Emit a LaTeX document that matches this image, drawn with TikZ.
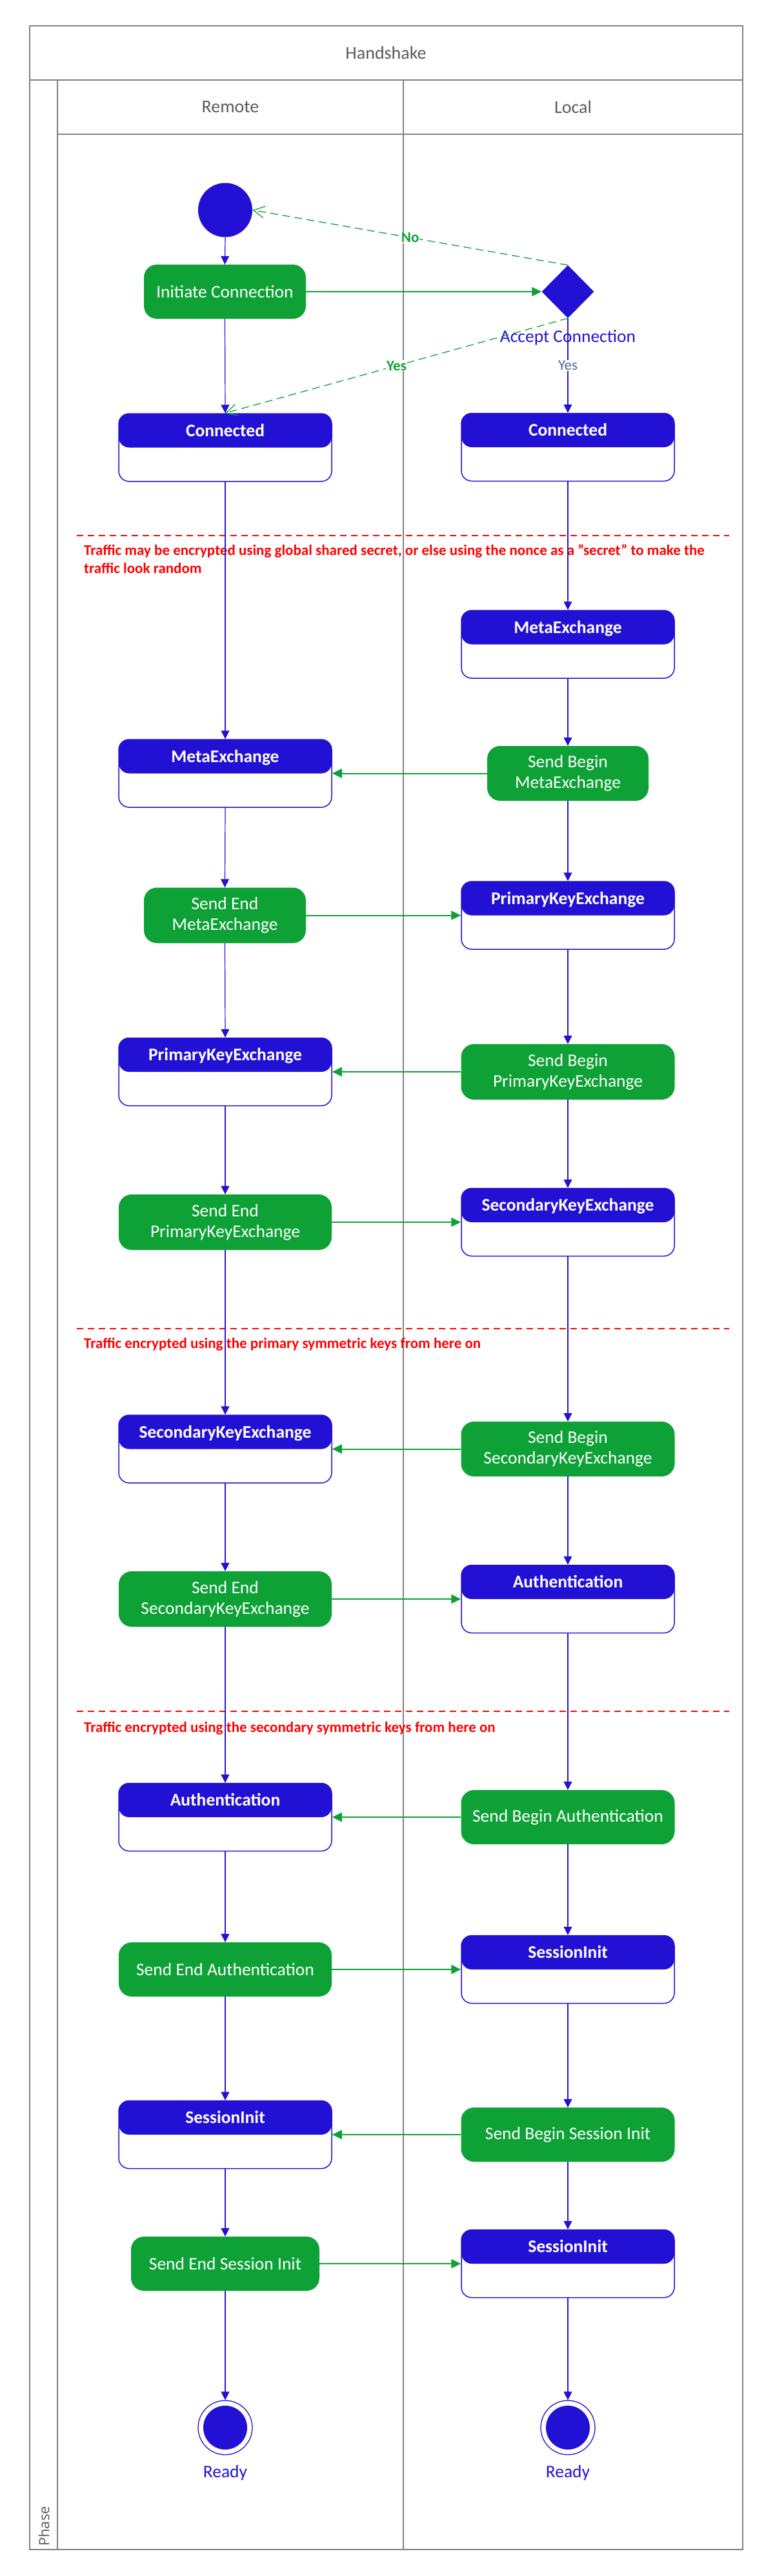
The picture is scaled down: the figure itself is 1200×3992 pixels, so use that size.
\documentclass[tikz,border=0pt]{standalone}
\usepackage{fontspec}
\setmainfont{Carlito}
\newfontfamily\phasefont{Open Sans}
\usetikzlibrary{shapes.geometric,arrows.meta}
\definecolor{ublue}{RGB}{34,17,212}
\definecolor{ugreen}{RGB}{13,161,54}
\definecolor{ugray}{RGB}{128,128,128}
\definecolor{utext}{RGB}{89,89,89}
\definecolor{yesblue}{RGB}{74,106,150}
\begin{document}
\begin{tikzpicture}[x=1pt,y=-1pt,
  frameline/.style={draw=ugray, line width=1.5pt},
  hdr/.style={text=utext, font=\fontsize{28}{34}\selectfont, inner sep=0pt},
  stbox/.style={rectangle, rounded corners=16pt, draw=ublue, line width=1.5pt, fill=white,
    minimum width=330pt, minimum height=105pt, inner sep=0pt,
    path picture={\fill[ublue] (path picture bounding box.north west) rectangle (path picture bounding box.east);}},
  sthead/.style={text=white, font=\bfseries\fontsize{27.5}{33}\selectfont, inner sep=0pt, anchor=base},
  act/.style={rectangle, rounded corners=20pt, fill=ugreen, text=white,
    font=\fontsize{27.5}{32}\selectfont, align=center, inner sep=0pt, minimum height=85pt},
  startnode/.style={circle, fill=ublue, minimum size=84pt, inner sep=0pt},
  finalnode/.style={circle, draw=ublue, line width=1.3pt, fill=white, minimum size=84pt, inner sep=0pt,
    path picture={\fill[ublue] (path picture bounding box.center) circle[radius=34pt];}},
  decnode/.style={diamond, fill=ublue, minimum width=81pt, minimum height=82pt, inner sep=0pt},
  bluetext/.style={text=ublue, font=\fontsize{27.5}{32}\selectfont, inner sep=0pt},
  flow/.style={draw=ublue, line width=1.2pt, -{Triangle[length=13pt,width=13pt]}},
  msg/.style={draw=ugreen, line width=2pt, -{Triangle[length=15pt,width=14pt]}},
  guard/.style={draw=ugreen, line width=1.3pt, dash pattern=on 12pt off 7pt, -{Straight Barb[length=17pt,width=18pt]}},
  glabel/.style={fill=white, text=ugreen, font=\bfseries\fontsize{23}{26}\selectfont, inner sep=1pt},
  ylabel/.style={fill=white, text=yesblue, font=\fontsize{23}{26}\selectfont, inner sep=1pt},
  note/.style={text=red, font=\bfseries\fontsize{23}{28}\selectfont, inner sep=0pt, anchor=base west},
  sepline/.style={draw=red, line width=1.5pt, dash pattern=on 10pt off 7pt}
]
\useasboundingbox (0,0) rectangle (1200,3992);

% ---- swimlane frame ----
\draw[frameline] (46,40) rectangle (1151,3951);
\draw[frameline] (46,124) -- (1151,124);
\draw[frameline] (89,124) -- (89,3951);
\draw[frameline] (89,208) -- (1151,208);
\draw[frameline] (625,124) -- (625,3951);
\node[hdr] (title) at (598,82) {Handshake};
\node[hdr] (remote) at (357,166) {Remote};
\node[hdr] (local) at (888,166) {Local};
\node[rotate=90, anchor=west, text=utext, font=\phasefont\fontsize{22}{26}\selectfont, inner sep=0pt] (phase) at (68,3946) {Phase};

% ---- separators ----
\draw[sepline] (119,830) -- (1130,830);
\node[note] (n1a) at (130,860) {Traffic may be encrypted using global shared secret, or else using the nonce as a "secret" to make the};
\node[note] (n1b) at (130,888) {traffic look random};
\draw[sepline] (119,2059) -- (1130,2059);
\node[note] (n2) at (130,2089) {Traffic encrypted using the primary symmetric keys from here on};
\draw[sepline] (119,2652) -- (1130,2652);
\node[note] (n3) at (130,2684) {Traffic encrypted using the secondary symmetric keys from here on};

% ---- remote column ----
\node[startnode] (start) at (349,325.5) {};
\node[act, minimum width=251pt, minimum height=84pt] (initc) at (348.5,452) {Initiate Connection};
\node[stbox] (rcon) at (349,693.5) {};
\node[sthead] at ([yshift=-36pt]rcon.north) {Connected};
\node[stbox] (rmeta) at (349,1198.5) {};
\node[sthead] at ([yshift=-36pt]rmeta.north) {MetaExchange};
\node[act, minimum width=251pt, minimum height=86pt] (rend1) at (348.5,1418.5) {Send End\\MetaExchange};
\node[stbox] (rpke) at (349,1661) {};
\node[sthead] at ([yshift=-36pt]rpke.north) {PrimaryKeyExchange};
\node[act, minimum width=330pt, minimum height=86pt] (rend2) at (349,1894) {Send End\\PrimaryKeyExchange};
\node[stbox] (rske) at (349,2245.5) {};
\node[sthead] at ([yshift=-36pt]rske.north) {SecondaryKeyExchange};
\node[act, minimum width=330pt, minimum height=86pt] (rend3) at (349,2478) {Send End\\SecondaryKeyExchange};
\node[stbox] (rauth) at (349,2816) {};
\node[sthead] at ([yshift=-36pt]rauth.north) {Authentication};
\node[act, minimum width=330pt, minimum height=84pt] (rend4) at (349,3052) {Send End Authentication};
\node[stbox] (rsi) at (349,3308) {};
\node[sthead] at ([yshift=-36pt]rsi.north) {SessionInit};
\node[act, minimum width=292pt, minimum height=84pt] (rend5) at (349,3508) {Send End Session Init};
\node[finalnode] (rfin) at (349,3762) {};
\node[bluetext] (rready) at (349,3832) {Ready};

% ---- local column ----
\node[decnode] (dec) at (880,452) {};
\node[bluetext] (acclbl) at (880,523) {Accept Connection};
\node[stbox] (lcon) at (880,693) {};
\node[sthead] at ([yshift=-36pt]lcon.north) {Connected};
\node[stbox] (lmeta) at (880,998.5) {};
\node[sthead] at ([yshift=-36pt]lmeta.north) {MetaExchange};
\node[act, minimum width=250pt, minimum height=85pt] (lbeg1) at (880,1198.5) {Send Begin\\MetaExchange};
\node[stbox] (lpke) at (880,1418.5) {};
\node[sthead] at ([yshift=-36pt]lpke.north) {PrimaryKeyExchange};
\node[act, minimum width=331pt, minimum height=86pt] (lbeg2) at (880,1661) {Send Begin\\PrimaryKeyExchange};
\node[stbox] (lske) at (880,1894) {};
\node[sthead] at ([yshift=-36pt]lske.north) {SecondaryKeyExchange};
\node[act, minimum width=331pt, minimum height=85pt] (lbeg3) at (880,2245.5) {Send Begin\\SecondaryKeyExchange};
\node[stbox] (lauth) at (880,2478) {};
\node[sthead] at ([yshift=-36pt]lauth.north) {Authentication};
\node[act, minimum width=331pt, minimum height=84pt] (lbeg4) at (880,2816) {Send Begin Authentication};
\node[stbox] (lsi) at (880,3052) {};
\node[sthead] at ([yshift=-36pt]lsi.north) {SessionInit};
\node[act, minimum width=331pt, minimum height=84pt] (lbeg5) at (880,3308) {Send Begin Session Init};
\node[stbox] (lsi2) at (880,3508) {};
\node[sthead] at ([yshift=-36pt]lsi2.north) {SessionInit};
\node[finalnode] (lfin) at (880,3762) {};
\node[bluetext] (lready) at (880,3832) {Ready};

% ---- remote flow ----
\draw[flow] (start.south) -- (initc.north);
\draw[flow] (initc.south) -- (rcon.north);
\draw[flow] (rcon.south) -- (rmeta.north);
\draw[flow] (rmeta.south) -- (rend1.north);
\draw[flow] (rend1.south) -- (rpke.north);
\draw[flow] (rpke.south) -- (rend2.north);
\draw[flow] (rend2.south) -- (rske.north);
\draw[flow] (rske.south) -- (rend3.north);
\draw[flow] (rend3.south) -- (rauth.north);
\draw[flow] (rauth.south) -- (rend4.north);
\draw[flow] (rend4.south) -- (rsi.north);
\draw[flow] (rsi.south) -- (rend5.north);
\draw[flow] (rend5.south) -- (rfin.north);

% ---- local flow ----
\draw[flow] (dec.south) -- node[ylabel, pos=0.5] (yes2) {Yes} (lcon.north);
\draw[flow] (lcon.south) -- (lmeta.north);
\draw[flow] (lmeta.south) -- (lbeg1.north);
\draw[flow] (lbeg1.south) -- (lpke.north);
\draw[flow] (lpke.south) -- (lbeg2.north);
\draw[flow] (lbeg2.south) -- (lske.north);
\draw[flow] (lske.south) -- (lbeg3.north);
\draw[flow] (lbeg3.south) -- (lauth.north);
\draw[flow] (lauth.south) -- (lbeg4.north);
\draw[flow] (lbeg4.south) -- (lsi.north);
\draw[flow] (lsi.south) -- (lbeg5.north);
\draw[flow] (lbeg5.south) -- (lsi2.north);
\draw[flow] (lsi2.south) -- (lfin.north);

% ---- decision guards ----
\draw[guard] (dec.north) -- node[glabel, pos=0.5] (nolbl) {No} (start.east);
\draw[guard] (dec.south) -- node[glabel, pos=0.5] (yes1) {Yes} (rcon.north);

% ---- messages ----
\draw[msg] (initc.east) -- (dec.west);
\draw[msg] (lbeg1.west) -- (rmeta.east);
\draw[msg] (rend1.east) -- (lpke.west);
\draw[msg] (lbeg2.west) -- (rpke.east);
\draw[msg] (rend2.east) -- (lske.west);
\draw[msg] (lbeg3.west) -- (rske.east);
\draw[msg] (rend3.east) -- (lauth.west);
\draw[msg] (lbeg4.west) -- (rauth.east);
\draw[msg] (rend4.east) -- (lsi.west);
\draw[msg] (lbeg5.west) -- (rsi.east);
\draw[msg] (rend5.east) -- (lsi2.west);
\end{tikzpicture}
\end{document}
